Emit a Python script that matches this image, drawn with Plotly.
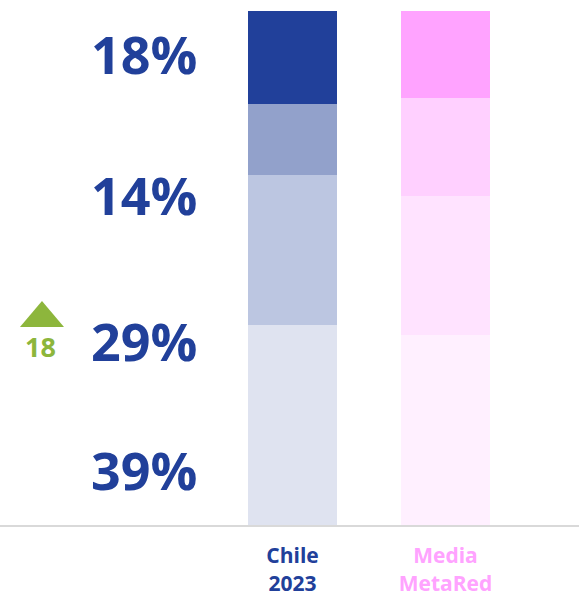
import plotly.graph_objects as go

categories = ["Chile<br>2023", "Media<br>MetaRed"]
cat_colors = ["#21409A", "#FFA3FF"]
x_pos = [0, 1]
segment_names = ["s1", "s2", "s3", "s4"]
chile_values = [39, 29, 14, 18]
metared_values = [37, 27, 19, 17]
chile_colors = ["#DFE3F0", "#BCC6E1", "#92A1CB", "#21409A"]
metared_colors = ["#FFF0FF", "#FFE3FF", "#FFD0FF", "#FFA3FF"]
left_labels = ["39%", "29%", "14%", "18%"]
left_label_y = [10.8, 35.9, 64.3, 91.8]
delta_value = "18"

fig = go.Figure()
for i in range(4):
    fig.add_trace(go.Bar(
        x=x_pos, y=[chile_values[i], metared_values[i]],
        marker=dict(color=[chile_colors[i], metared_colors[i]], line=dict(width=0)),
        width=0.582, name=segment_names[i], showlegend=False, hoverinfo="skip"))

for lab, yy in zip(left_labels, left_label_y):
    fig.add_annotation(x=0.2487, y=yy, xref="paper", yref="y", text="<b>" + lab + "</b>",
                       showarrow=False, xanchor="center", yanchor="middle",
                       font=dict(family="Open Sans", size=52, color="#21409A"))

# green up triangle and value
fig.add_shape(type="path", xref="paper", yref="paper",
              path="M 0.0345 0.3771 L 0.0725 0.4267 L 0.1105 0.3771 Z",
              fillcolor="#8DB63C", line=dict(width=0))
fig.add_annotation(x=0.070, y=34.8, xref="paper", yref="y", text="<b>" + delta_value + "</b>",
                   showarrow=False, xanchor="center", yanchor="middle",
                   font=dict(family="Open Sans", size=27, color="#8DB63C"))

ticktext = ["<b><span style='color:%s'>%s</span></b>" % (c, t) for c, t in zip(cat_colors, categories)]

fig.update_layout(
    barmode="stack", width=579, height=597,
    margin=dict(l=0, r=0, t=0, b=72),
    paper_bgcolor="white", plot_bgcolor="white",
    xaxis=dict(range=[-1.912, 1.8725], tickvals=x_pos, ticktext=ticktext,
               showgrid=False, zeroline=False, showline=True, linecolor="#D9D9D9", linewidth=2,
               ticks="", tickfont=dict(family="Open Sans", size=21), ticklabelstandoff=11),
    yaxis=dict(range=[0, 102.14], visible=False, showgrid=False, zeroline=False),
)
fig.write_html("out.html", config={"displayModeBar": False},
               post_script="document.body.style.margin='0';document.body.style.overflow='hidden';")
